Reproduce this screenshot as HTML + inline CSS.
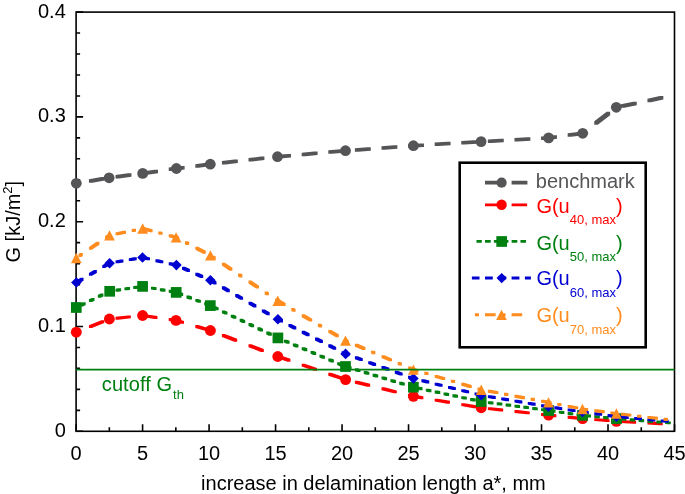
<!DOCTYPE html>
<html><head><meta charset="utf-8"><style>
html,body{margin:0;padding:0;background:#fff;}
body{width:685px;height:494px;overflow:hidden;}
svg{display:block;will-change:transform;font-family:"Liberation Sans",sans-serif;}
</style></head><body>
<svg width="685" height="494" viewBox="0 0 685 494">
<defs><clipPath id="l_bench"><rect x="465.00" y="150" width="9.40" height="200"/><rect x="485.00" y="150" width="16.00" height="200"/><rect x="511.60" y="150" width="16.00" height="200"/><rect x="538.19" y="150" width="1.81" height="200"/></clipPath>
<clipPath id="l_red"><rect x="465.00" y="150" width="9.00" height="200"/><rect x="485.00" y="150" width="15.60" height="200"/><rect x="511.60" y="150" width="15.60" height="200"/><rect x="538.19" y="150" width="1.81" height="200"/></clipPath>
<clipPath id="l_green"><rect x="467.27" y="150" width="5.70" height="200"/><rect x="476.13" y="150" width="5.70" height="200"/><rect x="485.00" y="150" width="5.70" height="200"/><rect x="493.87" y="150" width="5.70" height="200"/><rect x="502.73" y="150" width="5.70" height="200"/><rect x="511.60" y="150" width="5.70" height="200"/><rect x="520.46" y="150" width="5.70" height="200"/><rect x="529.33" y="150" width="5.70" height="200"/><rect x="538.19" y="150" width="1.81" height="200"/></clipPath>
<clipPath id="l_blue"><rect x="465.00" y="150" width="1.20" height="200"/><rect x="471.70" y="150" width="7.80" height="200"/><rect x="485.00" y="150" width="7.80" height="200"/><rect x="498.30" y="150" width="7.80" height="200"/><rect x="511.60" y="150" width="7.80" height="200"/><rect x="524.89" y="150" width="7.80" height="200"/><rect x="538.19" y="150" width="1.81" height="200"/></clipPath>
<clipPath id="l_orange"><rect x="465.00" y="150" width="4.00" height="200"/><rect x="474.56" y="150" width="4.40" height="200"/><rect x="485.00" y="150" width="10.60" height="200"/><rect x="501.16" y="150" width="4.40" height="200"/><rect x="511.60" y="150" width="10.60" height="200"/><rect x="527.76" y="150" width="4.40" height="200"/><rect x="538.19" y="150" width="1.81" height="200"/></clipPath></defs>
<rect width="685" height="494" fill="#fff"/>
<rect x="76.1" y="12.1" width="598.4" height="419.2" fill="none" stroke="#000" stroke-width="1.6"/>
<path d="M76.1 431.30h7M76.1 410.34h4M76.1 389.38h4M76.1 368.42h4M76.1 347.46h4M76.1 326.50h7M76.1 305.54h4M76.1 284.58h4M76.1 263.62h4M76.1 242.66h4M76.1 221.70h7M76.1 200.74h4M76.1 179.78h4M76.1 158.82h4M76.1 137.86h4M76.1 116.90h7M76.1 95.94h4M76.1 74.98h4M76.1 54.02h4M76.1 33.06h4M76.1 12.10h7M76.10 431.3v-7M109.34 431.3v-4M142.59 431.3v-7M175.83 431.3v-4M209.08 431.3v-7M242.32 431.3v-4M275.57 431.3v-7M308.81 431.3v-4M342.06 431.3v-7M375.30 431.3v-4M408.54 431.3v-7M441.79 431.3v-4M475.03 431.3v-7M508.28 431.3v-4M541.52 431.3v-7M574.77 431.3v-4M608.01 431.3v-7M641.26 431.3v-4M674.50 431.3v-7" stroke="#000" stroke-width="1.6" fill="none"/>
<path d="M74.55 181.55L74.74 181.52L78.24 181.52L78.24 185.02L78.05 185.05L74.55 185.05ZM88.94 179.14L101.34 177.06L104.84 177.06L104.84 180.56L92.44 182.64L88.94 182.64ZM115.53 174.98L127.93 173.35L131.43 173.35L131.43 176.85L119.03 178.48L115.53 178.48ZM142.13 171.48L154.53 169.68L158.03 169.68L158.03 173.18L145.63 174.98L142.13 174.98ZM168.72 167.61L174.65 166.75L178.15 166.75L178.15 170.25L172.22 171.11L168.72 171.11ZM174.65 166.75L181.12 165.93L184.62 165.93L184.62 169.43L178.15 170.25L174.65 170.25ZM195.32 164.13L207.72 162.56L211.22 162.56L211.22 166.06L198.82 167.63L195.32 167.63ZM221.91 160.96L234.31 159.57L237.81 159.57L237.81 163.07L225.41 164.46L221.91 164.46ZM248.51 157.99L260.91 156.61L264.41 156.61L264.41 160.11L252.01 161.49L248.51 161.49ZM275.11 155.02L275.75 154.95L279.25 154.95L279.25 158.45L278.61 158.52L275.11 158.52ZM275.75 154.95L287.51 153.91L291.01 153.91L291.01 157.41L279.25 158.45L275.75 158.45ZM301.70 152.66L314.10 151.57L317.60 151.57L317.60 155.07L305.20 156.16L301.70 156.16ZM328.30 150.31L340.70 149.22L344.20 149.22L344.20 152.72L331.80 153.81L328.30 153.81ZM354.89 148.13L367.29 147.22L370.79 147.22L370.79 150.72L358.39 151.63L354.89 151.63ZM381.49 146.17L393.89 145.26L397.39 145.26L397.39 148.76L384.99 149.67L381.49 149.67ZM408.08 144.21L411.65 143.95L415.15 143.95L415.15 147.45L411.58 147.71L408.08 147.71ZM411.65 143.95L420.48 143.42L423.98 143.42L423.98 146.92L415.15 147.45L411.65 147.45ZM434.68 142.56L447.08 141.80L450.58 141.80L450.58 145.30L438.18 146.06L434.68 146.06ZM461.27 140.94L473.67 140.19L477.17 140.19L477.17 143.69L464.77 144.44L461.27 144.44ZM487.87 139.38L500.27 138.70L503.77 138.70L503.77 142.20L491.37 142.88L487.87 142.88ZM514.47 137.93L526.87 137.25L530.37 137.25L530.37 140.75L517.97 141.43L514.47 141.43ZM541.06 136.47L546.85 136.15L550.35 136.15L550.35 139.65L544.56 139.97L541.06 139.97ZM546.85 136.15L553.46 135.26L556.96 135.26L556.96 138.76L550.35 139.65L546.85 139.65ZM567.66 133.34L580.06 131.67L583.56 131.67L583.56 135.17L571.16 136.84L567.66 136.84ZM594.25 121.26L606.65 111.66L610.15 111.66L610.15 115.16L597.75 124.76L594.25 124.76ZM620.85 104.23L633.25 101.63L636.75 101.63L636.75 105.13L624.35 107.73L620.85 107.73ZM647.44 98.65L659.84 96.06L663.34 96.06L663.34 99.56L650.94 102.15L647.44 102.15Z" fill="#555558"/>
<circle cx="76.3" cy="183.3" r="5.4" fill="#555558"/>
<circle cx="109.1" cy="177.8" r="5.4" fill="#555558"/>
<circle cx="142.7" cy="173.4" r="5.4" fill="#555558"/>
<circle cx="176.4" cy="168.5" r="5.4" fill="#555558"/>
<circle cx="210.3" cy="164.2" r="5.4" fill="#555558"/>
<circle cx="277.5" cy="156.7" r="5.4" fill="#555558"/>
<circle cx="345.5" cy="150.7" r="5.4" fill="#555558"/>
<circle cx="413.4" cy="145.7" r="5.4" fill="#555558"/>
<circle cx="481.1" cy="141.6" r="5.4" fill="#555558"/>
<circle cx="548.6" cy="137.9" r="5.4" fill="#555558"/>
<circle cx="582.7" cy="133.3" r="5.4" fill="#555558"/>
<circle cx="616.3" cy="107.3" r="5.4" fill="#555558"/>
<path d="M88.94 325.13L101.34 320.19L104.24 320.19L104.24 323.09L91.84 328.03L88.94 328.03ZM115.53 316.75L127.93 315.44L130.83 315.44L130.83 318.34L118.43 319.65L115.53 319.65ZM142.13 314.19L145.03 314.19L157.43 316.01L157.43 318.91L154.53 318.91L142.13 317.09ZM168.72 318.10L171.62 318.10L177.45 318.95L177.45 321.85L174.55 321.85L168.72 321.00ZM174.55 318.95L177.45 318.95L184.02 320.88L184.02 323.78L181.12 323.78L174.55 321.85ZM195.32 325.05L198.22 325.05L210.62 328.69L210.62 331.59L207.72 331.59L195.32 327.95ZM221.91 334.05L224.81 334.05L237.21 338.83L237.21 341.73L234.31 341.73L221.91 336.95ZM248.51 344.31L251.41 344.31L263.81 349.09L263.81 351.99L260.91 351.99L248.51 347.21ZM275.11 354.57L278.01 354.57L279.25 355.05L279.25 357.95L276.35 357.95L275.11 357.47ZM276.35 355.05L279.25 355.05L290.41 358.85L290.41 361.75L287.51 361.75L276.35 357.95ZM301.70 363.69L304.60 363.69L317.00 367.91L317.00 370.81L314.10 370.81L301.70 366.59ZM328.30 372.75L331.20 372.75L343.60 376.97L343.60 379.87L340.70 379.87L328.30 375.65ZM354.89 380.80L357.79 380.80L370.19 383.85L370.19 386.75L367.29 386.75L354.89 383.70ZM381.49 387.35L384.39 387.35L396.79 390.40L396.79 393.30L393.89 393.30L381.49 390.25ZM408.08 393.90L410.98 393.90L414.85 394.85L414.85 397.75L411.95 397.75L408.08 396.80ZM411.95 394.85L414.85 394.85L423.38 396.28L423.38 399.18L420.48 399.18L411.95 397.75ZM434.68 398.67L437.58 398.67L449.98 400.76L449.98 403.66L447.08 403.66L434.68 401.57ZM461.27 403.14L464.17 403.14L476.57 405.23L476.57 408.13L473.67 408.13L461.27 406.04ZM487.87 407.14L490.77 407.14L503.17 408.50L503.17 411.40L500.27 411.40L487.87 410.04ZM514.47 410.06L517.37 410.06L529.77 411.42L529.77 414.32L526.87 414.32L514.47 412.96ZM541.06 412.98L543.96 412.98L550.05 413.65L550.05 416.55L547.15 416.55L541.06 415.88ZM547.15 413.65L550.05 413.65L556.36 414.30L556.36 417.20L553.46 417.20L547.15 416.55ZM567.66 415.76L570.56 415.76L582.96 417.04L582.96 419.94L580.06 419.94L567.66 418.66ZM594.25 418.20L597.15 418.20L609.55 419.19L609.55 422.09L606.65 422.09L594.25 421.10ZM620.85 420.16L623.75 420.16L636.15 420.83L636.15 423.73L633.25 423.73L620.85 423.06ZM647.44 421.58L650.34 421.58L662.74 422.25L662.74 425.15L659.84 425.15L647.44 424.48Z" fill="#ff0000"/>
<circle cx="76.3" cy="332.2" r="5.45" fill="#ff0000"/>
<circle cx="109.4" cy="319.0" r="5.45" fill="#ff0000"/>
<circle cx="142.6" cy="315.5" r="5.45" fill="#ff0000"/>
<circle cx="176.0" cy="320.4" r="5.45" fill="#ff0000"/>
<circle cx="210.4" cy="330.5" r="5.45" fill="#ff0000"/>
<circle cx="277.8" cy="356.5" r="5.45" fill="#ff0000"/>
<circle cx="345.6" cy="379.6" r="5.45" fill="#ff0000"/>
<circle cx="413.4" cy="396.3" r="5.45" fill="#ff0000"/>
<circle cx="481.2" cy="407.7" r="5.45" fill="#ff0000"/>
<circle cx="548.6" cy="415.1" r="5.45" fill="#ff0000"/>
<circle cx="582.6" cy="418.6" r="5.45" fill="#ff0000"/>
<circle cx="616.4" cy="421.3" r="5.45" fill="#ff0000"/>
<path d="M80.07 303.52L82.77 302.21L85.67 302.21L85.67 305.11L82.97 306.42L80.07 306.42ZM88.94 299.22L91.64 297.91L94.54 297.91L94.54 300.81L91.84 302.12L88.94 302.12ZM97.80 294.92L100.50 293.61L103.40 293.61L103.40 296.51L100.70 297.82L97.80 297.82ZM106.67 290.62L108.25 289.85L111.15 289.85L111.15 292.75L109.57 293.52L106.67 293.52ZM108.25 289.85L109.37 289.68L112.27 289.68L112.27 292.58L111.15 292.75L108.25 292.75ZM115.53 288.77L118.23 288.36L121.13 288.36L121.13 291.26L118.43 291.67L115.53 291.67ZM124.40 287.45L127.10 287.04L130.00 287.04L130.00 289.94L127.30 290.35L124.40 290.35ZM133.26 286.12L135.96 285.72L138.86 285.72L138.86 288.62L136.16 289.02L133.26 289.02ZM142.13 285.12L145.03 285.12L147.73 285.61L147.73 288.51L144.83 288.51L142.13 288.02ZM150.99 286.71L153.89 286.71L156.59 287.19L156.59 290.09L153.69 290.09L150.99 289.61ZM159.86 288.29L162.76 288.29L165.46 288.77L165.46 291.67L162.56 291.67L159.86 291.19ZM168.72 289.87L171.62 289.87L174.32 290.36L174.32 293.26L171.42 293.26L168.72 292.77ZM177.59 292.05L180.49 292.05L183.19 293.09L183.19 295.99L180.29 295.99L177.59 294.95ZM186.45 295.48L189.35 295.48L192.05 296.53L192.05 299.43L189.15 299.43L186.45 298.38ZM195.32 298.91L198.22 298.91L200.92 299.96L200.92 302.86L198.02 302.86L195.32 301.81ZM204.18 302.34L207.08 302.34L209.78 303.39L209.78 306.29L206.88 306.29L204.18 305.24ZM213.05 306.16L215.95 306.16L218.65 307.45L218.65 310.35L215.75 310.35L213.05 309.06ZM221.91 310.39L224.81 310.39L227.51 311.68L227.51 314.58L224.61 314.58L221.91 313.29ZM230.78 314.63L233.68 314.63L236.38 315.92L236.38 318.82L233.48 318.82L230.78 317.53ZM239.64 318.86L242.54 318.86L245.24 320.15L245.24 323.05L242.34 323.05L239.64 321.76ZM248.51 323.10L251.41 323.10L254.11 324.39L254.11 327.29L251.21 327.29L248.51 326.00ZM257.38 327.34L260.28 327.34L262.98 328.63L262.98 331.53L260.08 331.53L257.38 330.24ZM266.24 331.57L269.14 331.57L271.84 332.86L271.84 335.76L268.94 335.76L266.24 334.47ZM275.11 335.81L278.01 335.81L279.35 336.45L279.35 339.35L276.45 339.35L275.11 338.71ZM276.45 336.45L279.35 336.45L280.71 337.02L280.71 339.92L277.81 339.92L276.45 339.35ZM283.97 339.63L286.87 339.63L289.57 340.77L289.57 343.67L286.67 343.67L283.97 342.53ZM292.84 343.38L295.74 343.38L298.44 344.52L298.44 347.42L295.54 347.42L292.84 346.28ZM301.70 347.13L304.60 347.13L307.30 348.28L307.30 351.18L304.40 351.18L301.70 350.03ZM310.57 350.88L313.47 350.88L316.17 352.03L316.17 354.93L313.27 354.93L310.57 353.78ZM319.43 354.63L322.33 354.63L325.03 355.78L325.03 358.68L322.13 358.68L319.43 357.53ZM328.30 358.39L331.20 358.39L333.90 359.53L333.90 362.43L331.00 362.43L328.30 361.29ZM337.16 362.14L340.06 362.14L342.76 363.28L342.76 366.18L339.86 366.18L337.16 365.04ZM346.03 365.65L348.93 365.65L351.63 366.48L351.63 369.38L348.73 369.38L346.03 368.55ZM354.89 368.36L357.79 368.36L360.49 369.18L360.49 372.08L357.59 372.08L354.89 371.26ZM363.76 371.06L366.66 371.06L369.36 371.88L369.36 374.78L366.46 374.78L363.76 373.96ZM372.62 373.76L375.52 373.76L378.22 374.58L378.22 377.48L375.32 377.48L372.62 376.66ZM381.49 376.46L384.39 376.46L387.09 377.29L387.09 380.19L384.19 380.19L381.49 379.36ZM390.35 379.17L393.25 379.17L395.95 379.99L395.95 382.89L393.05 382.89L390.35 382.07ZM399.22 381.87L402.12 381.87L404.82 382.69L404.82 385.59L401.92 385.59L399.22 384.77ZM408.08 384.57L410.98 384.57L413.68 385.39L413.68 388.29L410.78 388.29L408.08 387.47ZM416.95 386.80L419.85 386.80L422.55 387.37L422.55 390.27L419.65 390.27L416.95 389.70ZM425.81 388.67L428.71 388.67L431.41 389.24L431.41 392.14L428.51 392.14L425.81 391.57ZM434.68 390.54L437.58 390.54L440.28 391.11L440.28 394.01L437.38 394.01L434.68 393.44ZM443.54 392.41L446.44 392.41L449.14 392.98L449.14 395.88L446.24 395.88L443.54 395.31ZM452.41 394.28L455.31 394.28L458.01 394.85L458.01 397.75L455.11 397.75L452.41 397.18ZM461.27 396.15L464.17 396.15L466.87 396.72L466.87 399.62L463.97 399.62L461.27 399.05ZM470.14 398.02L473.04 398.02L475.74 398.59L475.74 401.49L472.84 401.49L470.14 400.92ZM479.00 399.89L481.90 399.89L482.65 400.05L482.65 402.95L479.75 402.95L479.00 402.79ZM479.75 400.05L482.65 400.05L484.60 400.31L484.60 403.21L481.70 403.21L479.75 402.95ZM487.87 401.13L490.77 401.13L493.47 401.49L493.47 404.39L490.57 404.39L487.87 404.03ZM496.74 402.31L499.64 402.31L502.34 402.67L502.34 405.57L499.44 405.57L496.74 405.21ZM505.60 403.50L508.50 403.50L511.20 403.86L511.20 406.76L508.30 406.76L505.60 406.40ZM514.47 404.68L517.37 404.68L520.07 405.04L520.07 407.94L517.17 407.94L514.47 407.58ZM523.33 405.86L526.23 405.86L528.93 406.22L528.93 409.12L526.03 409.12L523.33 408.76ZM532.20 407.04L535.10 407.04L537.80 407.40L537.80 410.30L534.90 410.30L532.20 409.94ZM541.06 408.22L543.96 408.22L546.66 408.58L546.66 411.48L543.76 411.48L541.06 411.12ZM549.93 409.44L552.83 409.44L555.53 409.83L555.53 412.73L552.63 412.73L549.93 412.34ZM558.79 410.72L561.69 410.72L564.39 411.11L564.39 414.01L561.49 414.01L558.79 413.62ZM567.66 412.00L570.56 412.00L573.26 412.39L573.26 415.29L570.36 415.29L567.66 414.90ZM576.52 413.28L579.42 413.28L582.12 413.67L582.12 416.57L579.22 416.57L576.52 416.18ZM585.39 414.35L588.29 414.35L590.99 414.60L590.99 417.50L588.09 417.50L585.39 417.25ZM594.25 415.19L597.15 415.19L599.85 415.44L599.85 418.34L596.95 418.34L594.25 418.09ZM603.12 416.02L606.02 416.02L608.72 416.28L608.72 419.18L605.82 419.18L603.12 418.92ZM611.98 416.86L614.88 416.86L617.58 417.12L617.58 420.02L614.68 420.02L611.98 419.76ZM620.85 417.62L623.75 417.62L626.45 417.84L626.45 420.74L623.55 420.74L620.85 420.52ZM629.71 418.34L632.61 418.34L635.31 418.56L635.31 421.46L632.41 421.46L629.71 421.24ZM638.58 419.06L641.48 419.06L644.18 419.28L644.18 422.18L641.28 422.18L638.58 421.96ZM647.44 419.77L650.34 419.77L653.04 419.99L653.04 422.89L650.14 422.89L647.44 422.67ZM656.31 420.49L659.21 420.49L661.91 420.71L661.91 423.61L659.01 423.61L656.31 423.39ZM665.17 421.21L668.07 421.21L670.77 421.43L670.77 424.33L667.87 424.33L665.17 424.11Z" fill="#008010"/>
<rect x="70.95" y="302.15" width="10.7" height="10.7" fill="#008010"/>
<rect x="104.35" y="285.95" width="10.7" height="10.7" fill="#008010"/>
<rect x="137.25" y="281.05" width="10.7" height="10.7" fill="#008010"/>
<rect x="170.85" y="287.05" width="10.7" height="10.7" fill="#008010"/>
<rect x="204.95" y="300.25" width="10.7" height="10.7" fill="#008010"/>
<rect x="272.55" y="332.55" width="10.7" height="10.7" fill="#008010"/>
<rect x="340.15" y="361.15" width="10.7" height="10.7" fill="#008010"/>
<rect x="408.05" y="381.85" width="10.7" height="10.7" fill="#008010"/>
<rect x="475.85" y="396.15" width="10.7" height="10.7" fill="#008010"/>
<rect x="543.35" y="405.15" width="10.7" height="10.7" fill="#008010"/>
<rect x="577.25" y="410.05" width="10.7" height="10.7" fill="#008010"/>
<rect x="611.15" y="413.25" width="10.7" height="10.7" fill="#008010"/>
<path d="M75.64 280.65L80.64 277.74L83.54 277.74L83.54 280.64L78.54 283.55L75.64 283.55ZM88.94 272.92L93.94 270.01L96.84 270.01L96.84 272.91L91.84 275.82L88.94 275.82ZM102.23 265.19L107.23 262.28L110.13 262.28L110.13 265.18L105.13 268.09L102.23 268.09ZM115.53 260.47L120.53 259.60L123.43 259.60L123.43 262.50L118.43 263.37L115.53 263.37ZM128.83 258.17L133.83 257.30L136.73 257.30L136.73 260.20L131.73 261.07L128.83 261.07ZM142.13 256.29L145.03 256.29L150.03 257.41L150.03 260.31L147.13 260.31L142.13 259.19ZM155.43 259.27L158.33 259.27L163.33 260.39L163.33 263.29L160.43 263.29L155.43 262.17ZM168.72 262.25L171.62 262.25L176.62 263.37L176.62 266.27L173.72 266.27L168.72 265.15ZM182.02 266.81L184.92 266.81L189.92 269.05L189.92 271.95L187.02 271.95L182.02 269.71ZM195.32 272.76L198.22 272.76L203.22 274.99L203.22 277.89L200.32 277.89L195.32 275.66ZM208.62 278.70L211.52 278.70L211.85 278.85L211.85 281.75L208.95 281.75L208.62 281.60ZM208.95 278.85L211.85 278.85L216.52 281.55L216.52 284.45L213.62 284.45L208.95 281.75ZM221.91 286.34L224.81 286.34L229.81 289.23L229.81 292.13L226.91 292.13L221.91 289.24ZM235.21 294.02L238.11 294.02L243.11 296.91L243.11 299.81L240.21 299.81L235.21 296.92ZM248.51 301.71L251.41 301.71L256.41 304.60L256.41 307.50L253.51 307.50L248.51 304.61ZM261.81 309.39L264.71 309.39L269.71 312.28L269.71 315.18L266.81 315.18L261.81 312.29ZM275.11 317.07L278.01 317.07L279.35 317.85L279.35 320.75L276.45 320.75L275.11 319.97ZM276.45 317.85L279.35 317.85L283.01 319.72L283.01 322.62L280.11 322.62L276.45 320.75ZM288.40 323.96L291.30 323.96L296.30 326.51L296.30 329.41L293.40 329.41L288.40 326.86ZM301.70 330.76L304.60 330.76L309.60 333.31L309.60 336.21L306.70 336.21L301.70 333.66ZM315.00 337.55L317.90 337.55L322.90 340.11L322.90 343.01L320.00 343.01L315.00 340.45ZM328.30 344.35L331.20 344.35L336.20 346.90L336.20 349.80L333.30 349.80L328.30 347.25ZM341.59 351.14L344.49 351.14L347.05 352.45L347.05 355.35L344.15 355.35L341.59 354.04ZM344.15 352.45L347.05 352.45L349.49 353.34L349.49 356.24L346.59 356.24L344.15 355.35ZM354.89 356.35L357.79 356.35L362.79 358.16L362.79 361.06L359.89 361.06L354.89 359.25ZM368.19 361.17L371.09 361.17L376.09 362.99L376.09 365.89L373.19 365.89L368.19 364.07ZM381.49 366.00L384.39 366.00L389.39 367.81L389.39 370.71L386.49 370.71L381.49 368.90ZM394.79 370.82L397.69 370.82L402.69 372.64L402.69 375.54L399.79 375.54L394.79 373.72ZM408.08 375.65L410.98 375.65L414.85 377.05L414.85 379.95L411.95 379.95L408.08 378.55ZM411.95 377.05L414.85 377.05L415.98 377.33L415.98 380.23L413.08 380.23L411.95 379.95ZM421.38 379.37L424.28 379.37L429.28 380.60L429.28 383.50L426.38 383.50L421.38 382.27ZM434.68 382.65L437.58 382.65L442.58 383.88L442.58 386.78L439.68 386.78L434.68 385.55ZM447.98 385.92L450.88 385.92L455.88 387.16L455.88 390.06L452.98 390.06L447.98 388.82ZM461.27 389.20L464.17 389.20L469.17 390.43L469.17 393.33L466.27 393.33L461.27 392.10ZM474.57 392.47L477.47 392.47L482.47 393.71L482.47 396.61L479.57 396.61L474.57 395.37ZM487.87 395.14L490.77 395.14L495.77 395.99L495.77 398.89L492.87 398.89L487.87 398.04ZM501.17 397.41L504.07 397.41L509.07 398.26L509.07 401.16L506.17 401.16L501.17 400.31ZM514.47 399.68L517.37 399.68L522.37 400.54L522.37 403.44L519.47 403.44L514.47 402.58ZM527.76 401.95L530.66 401.95L535.66 402.81L535.66 405.71L532.76 405.71L527.76 404.85ZM541.06 404.23L543.96 404.23L548.96 405.08L548.96 407.98L546.06 407.98L541.06 407.13ZM554.36 406.37L557.26 406.37L562.26 407.13L562.26 410.03L559.36 410.03L554.36 409.27ZM567.66 408.40L570.56 408.40L575.56 409.17L575.56 412.07L572.66 412.07L567.66 411.30ZM580.95 410.44L583.85 410.44L583.95 410.45L583.95 413.35L581.05 413.35L580.95 413.34ZM581.05 410.45L583.95 410.45L588.85 411.13L588.85 414.03L585.95 414.03L581.05 413.35ZM594.25 412.28L597.15 412.28L602.15 412.97L602.15 415.87L599.25 415.87L594.25 415.18ZM607.55 414.12L610.45 414.12L615.45 414.82L615.45 417.72L612.55 417.72L607.55 417.02ZM620.85 415.70L623.75 415.70L628.75 416.16L628.75 419.06L625.85 419.06L620.85 418.60ZM634.15 416.93L637.05 416.93L642.05 417.40L642.05 420.30L639.15 420.30L634.15 419.83ZM647.44 418.17L650.34 418.17L655.34 418.63L655.34 421.53L652.44 421.53L647.44 421.07ZM660.74 419.41L663.64 419.41L668.64 419.87L668.64 422.77L665.74 422.77L660.74 422.31Z" fill="#0000d0"/>
<path d="M76.40 277.20L81.70 282.50L76.40 287.80L71.10 282.50Z" fill="#0000d0"/>
<path d="M109.60 257.90L114.90 263.20L109.60 268.50L104.30 263.20Z" fill="#0000d0"/>
<path d="M142.50 252.20L147.80 257.50L142.50 262.80L137.20 257.50Z" fill="#0000d0"/>
<path d="M176.40 259.80L181.70 265.10L176.40 270.40L171.10 265.10Z" fill="#0000d0"/>
<path d="M210.40 275.00L215.70 280.30L210.40 285.60L205.10 280.30Z" fill="#0000d0"/>
<path d="M277.90 314.00L283.20 319.30L277.90 324.60L272.60 319.30Z" fill="#0000d0"/>
<path d="M345.60 348.60L350.90 353.90L345.60 359.20L340.30 353.90Z" fill="#0000d0"/>
<path d="M413.40 373.20L418.70 378.50L413.40 383.80L408.10 378.50Z" fill="#0000d0"/>
<path d="M481.20 389.90L486.50 395.20L481.20 400.50L475.90 395.20Z" fill="#0000d0"/>
<path d="M548.50 401.40L553.80 406.70L548.50 412.00L543.20 406.70Z" fill="#0000d0"/>
<path d="M582.50 406.60L587.80 411.90L582.50 417.20L577.20 411.90Z" fill="#0000d0"/>
<path d="M616.40 411.30L621.70 416.60L616.40 421.90L611.10 416.60Z" fill="#0000d0"/>
<path d="M78.50 254.06L79.90 253.11L82.80 253.11L82.80 256.01L81.40 256.96L78.50 256.96ZM88.94 246.96L96.54 241.79L99.44 241.79L99.44 244.69L91.84 249.86L88.94 249.86ZM105.10 235.96L106.50 235.01L109.40 235.01L109.40 237.91L108.00 238.86L105.10 238.86ZM115.53 232.39L123.13 230.82L126.03 230.82L126.03 233.72L118.43 235.29L115.53 235.29ZM131.69 229.04L133.09 228.75L135.99 228.75L135.99 231.65L134.59 231.94L131.69 231.94ZM142.13 227.28L145.03 227.28L152.63 229.31L152.63 232.21L149.73 232.21L142.13 230.18ZM158.29 231.59L161.19 231.59L162.59 231.96L162.59 234.86L159.69 234.86L158.29 234.49ZM168.72 234.37L171.62 234.37L177.55 235.95L177.55 238.85L174.65 238.85L168.72 237.27ZM174.65 235.95L177.55 235.95L179.22 236.83L179.22 239.73L176.32 239.73L174.65 238.85ZM184.88 241.32L187.78 241.32L189.18 242.05L189.18 244.95L186.28 244.95L184.88 244.22ZM195.32 246.80L198.22 246.80L205.82 250.78L205.82 253.68L202.92 253.68L195.32 249.70ZM211.48 255.65L214.38 255.65L215.78 256.60L215.78 259.50L212.88 259.50L211.48 258.55ZM221.91 262.68L224.81 262.68L232.41 267.80L232.41 270.70L229.51 270.70L221.91 265.58ZM238.07 273.57L240.97 273.57L242.37 274.51L242.37 277.41L239.47 277.41L238.07 276.47ZM248.51 280.60L251.41 280.60L259.01 285.72L259.01 288.62L256.11 288.62L248.51 283.50ZM264.67 291.48L267.57 291.48L268.97 292.43L268.97 295.33L266.07 295.33L264.67 294.38ZM275.11 298.51L278.01 298.51L279.25 299.35L279.25 302.25L276.35 302.25L275.11 301.41ZM276.35 299.35L279.25 299.35L285.61 303.09L285.61 305.99L282.71 305.99L276.35 302.25ZM291.27 308.12L294.17 308.12L295.57 308.94L295.57 311.84L292.67 311.84L291.27 311.02ZM301.70 314.25L304.60 314.25L312.20 318.72L312.20 321.62L309.30 321.62L301.70 317.15ZM317.86 323.75L320.76 323.75L322.16 324.58L322.16 327.48L319.26 327.48L317.86 326.65ZM328.30 329.89L331.20 329.89L338.80 334.36L338.80 337.26L335.90 337.26L328.30 332.79ZM344.46 339.32L347.36 339.32L348.76 339.92L348.76 342.82L345.86 342.82L344.46 342.22ZM354.89 343.78L357.79 343.78L365.39 347.03L365.39 349.93L362.49 349.93L354.89 346.68ZM371.05 350.68L373.95 350.68L375.35 351.28L375.35 354.18L372.45 354.18L371.05 353.58ZM381.49 355.14L384.39 355.14L391.99 358.39L391.99 361.29L389.09 361.29L381.49 358.04ZM397.65 362.04L400.55 362.04L401.95 362.64L401.95 365.54L399.05 365.54L397.65 364.94ZM408.08 366.50L410.98 366.50L414.85 368.15L414.85 371.05L411.95 371.05L408.08 369.40ZM411.95 368.15L414.85 368.15L418.58 369.26L418.58 372.16L415.68 372.16L411.95 371.05ZM424.24 371.79L427.14 371.79L428.54 372.21L428.54 375.11L425.64 375.11L424.24 374.69ZM434.68 374.89L437.58 374.89L445.18 377.14L445.18 380.04L442.28 380.04L434.68 377.79ZM450.84 379.68L453.74 379.68L455.14 380.09L455.14 382.99L452.24 382.99L450.84 382.58ZM461.27 382.77L464.17 382.77L471.77 385.03L471.77 387.93L468.87 387.93L461.27 385.67ZM477.43 387.56L480.33 387.56L481.73 387.98L481.73 390.88L478.83 390.88L477.43 390.46ZM487.87 389.78L490.77 389.78L498.37 391.22L498.37 394.12L495.47 394.12L487.87 392.68ZM504.03 392.83L506.93 392.83L508.33 393.10L508.33 396.00L505.43 396.00L504.03 395.73ZM514.47 394.80L517.37 394.80L524.97 396.24L524.97 399.14L522.07 399.14L514.47 397.70ZM530.63 397.85L533.53 397.85L534.93 398.11L534.93 401.01L532.03 401.01L530.63 400.75ZM541.06 399.82L543.96 399.82L549.95 400.95L549.95 403.85L547.05 403.85L541.06 402.72ZM547.05 400.95L549.95 400.95L551.56 401.26L551.56 404.16L548.66 404.16L547.05 403.85ZM557.22 402.92L560.12 402.92L561.52 403.20L561.52 406.10L558.62 406.10L557.22 405.82ZM567.66 404.95L570.56 404.95L578.16 406.43L578.16 409.33L575.26 409.33L567.66 407.85ZM583.82 407.92L586.72 407.92L588.12 408.10L588.12 411.00L585.22 411.00L583.82 410.82ZM594.25 409.30L597.15 409.30L604.75 410.31L604.75 413.21L601.85 413.21L594.25 412.20ZM610.41 411.45L613.31 411.45L614.71 411.63L614.71 414.53L611.81 414.53L610.41 414.35ZM620.85 412.75L623.75 412.75L631.35 413.65L631.35 416.55L628.45 416.55L620.85 415.65ZM637.01 414.67L639.91 414.67L641.31 414.84L641.31 417.74L638.41 417.74L637.01 417.57ZM647.44 415.91L650.34 415.91L657.94 416.81L657.94 419.71L655.04 419.71L647.44 418.81ZM663.60 417.83L666.50 417.83L667.90 417.99L667.90 420.89L665.00 420.89L663.60 420.73Z" fill="#ff8c1e"/>
<path d="M76.30 252.80L81.70 263.20L70.90 263.20Z" fill="#ff8c1e"/>
<path d="M109.50 230.20L114.90 240.60L104.10 240.60Z" fill="#ff8c1e"/>
<path d="M142.70 223.30L148.10 233.70L137.30 233.70Z" fill="#ff8c1e"/>
<path d="M176.10 232.20L181.50 242.60L170.70 242.60Z" fill="#ff8c1e"/>
<path d="M210.40 250.20L215.80 260.60L205.00 260.60Z" fill="#ff8c1e"/>
<path d="M277.80 295.60L283.20 306.00L272.40 306.00Z" fill="#ff8c1e"/>
<path d="M345.50 335.40L350.90 345.80L340.10 345.80Z" fill="#ff8c1e"/>
<path d="M413.40 364.40L418.80 374.80L408.00 374.80Z" fill="#ff8c1e"/>
<path d="M481.20 384.50L486.60 394.90L475.80 394.90Z" fill="#ff8c1e"/>
<path d="M548.50 397.20L553.90 407.60L543.10 407.60Z" fill="#ff8c1e"/>
<path d="M582.50 403.80L587.90 414.20L577.10 414.20Z" fill="#ff8c1e"/>
<path d="M616.40 408.30L621.80 418.70L611.00 418.70Z" fill="#ff8c1e"/>
<line x1="76.1" y1="369.7" x2="674.5" y2="369.7" stroke="#008010" stroke-width="1.8"/>
<text x="101.8" y="391.2" font-size="20" fill="#008010" letter-spacing="0.1">cutoff G<tspan font-size="13" dx="0.8" dy="8.2" letter-spacing="0">th</tspan></text>
<g font-size="20" fill="#000"><text x="65.8" y="436.8" text-anchor="end">0</text><text x="65.8" y="332.0" text-anchor="end">0.1</text><text x="65.8" y="227.2" text-anchor="end">0.2</text><text x="65.8" y="122.4" text-anchor="end">0.3</text><text x="65.8" y="17.6" text-anchor="end">0.4</text><text x="76.1" y="459.7" text-anchor="middle">0</text><text x="142.6" y="459.7" text-anchor="middle">5</text><text x="209.1" y="459.7" text-anchor="middle">10</text><text x="275.6" y="459.7" text-anchor="middle">15</text><text x="342.1" y="459.7" text-anchor="middle">20</text><text x="408.5" y="459.7" text-anchor="middle">25</text><text x="475.0" y="459.7" text-anchor="middle">30</text><text x="541.5" y="459.7" text-anchor="middle">35</text><text x="608.0" y="459.7" text-anchor="middle">40</text><text x="674.5" y="459.7" text-anchor="middle">45</text></g>
<text x="201.1" y="489.5" font-size="20" fill="#000">increase in delamination length a*, mm</text>
<text transform="translate(20.3,221.7) rotate(-90)" text-anchor="middle" font-size="20" fill="#000">G [kJ/m<tspan font-size="13" dy="-8">2</tspan><tspan dy="8">]</tspan></text>
<rect x="459.7" y="162.7" width="186" height="184.6" fill="#fff" stroke="#000" stroke-width="2.6"/>
<line x1="485" y1="182.7" x2="527.7" y2="182.7" stroke="#555558" stroke-width="3.8" clip-path="url(#l_bench)"/>
<circle cx="501.6" cy="182.7" r="5.1" fill="#555558"/>
<text x="535.8" y="187.6" font-size="20" fill="#555558">benchmark</text>
<line x1="485" y1="204.8" x2="527.7" y2="204.8" stroke="#ff0000" stroke-width="2.8" clip-path="url(#l_red)"/>
<circle cx="501.6" cy="204.8" r="5.2" fill="#ff0000"/>
<text x="536.4" y="213.4" font-size="20" fill="#ff0000">G(u<tspan font-size="13" dy="10.9">40, max</tspan><tspan dy="-10.9">)</tspan></text>
<line x1="476.4" y1="241.4" x2="526.1" y2="241.4" stroke="#008010" stroke-width="2.9" clip-path="url(#l_green)"/>
<rect x="496.35" y="236.15" width="10.7" height="10.7" fill="#008010"/>
<text x="536.4" y="249.7" font-size="20" fill="#008010">G(u<tspan font-size="13" dy="11.7">50, max</tspan><tspan dy="-11.7">)</tspan></text>
<line x1="471.6" y1="277.9" x2="530.9" y2="277.9" stroke="#0000d0" stroke-width="3" clip-path="url(#l_blue)"/>
<path d="M501.70 272.90L506.90 278.10L501.70 283.30L496.50 278.10Z" fill="#0000d0"/>
<text x="536.4" y="285.1" font-size="20" fill="#0000d0">G(u<tspan font-size="13" dy="12.2">60, max</tspan><tspan dy="-12.2">)</tspan></text>
<line x1="474.7" y1="314.8" x2="522.7" y2="314.8" stroke="#ff8c1e" stroke-width="2.9" clip-path="url(#l_orange)"/>
<path d="M501.50 309.70L506.85 319.90L496.15 319.90Z" fill="#ff8c1e"/>
<text x="536.4" y="321.9" font-size="20" fill="#ff8c1e">G(u<tspan font-size="13" dy="12">70, max</tspan><tspan dy="-12">)</tspan></text>
</svg></body></html>
